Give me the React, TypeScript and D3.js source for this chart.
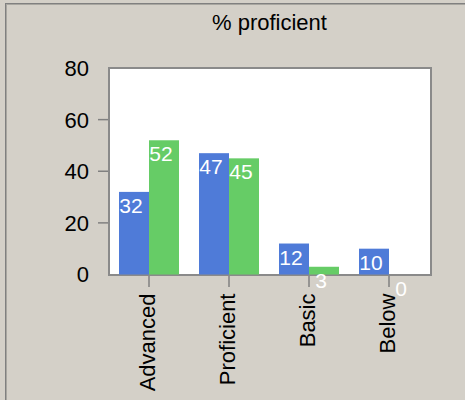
import React from "react";
import * as d3 from "d3";

const categories = ["Advanced", "Proficient", "Basic", "Below"];
const seriesNames = ["s1", "s2"];
const series1 = [32, 47, 12, 10];
const series2 = [52, 45, 3, 0];
const yTicks = [0, 20, 40, 60, 80];
const title = "% proficient";

const W = 465;
const H = 400;
const FONT = "'Liberation Sans', Arial, sans-serif";
const BG = "#d4d0c8";
const BLUE = "#4f7bd8";
const GREEN = "#66cc66";

export default function App() {
  const plot = { left: 109, right: 429, top: 68, bottom: 274.5 };
  const x = d3.scaleBand<string>().domain(categories).range([plot.left, plot.right]).paddingInner(0.25).paddingOuter(0.125);
  const xs = d3.scaleBand<string>().domain(seriesNames).range([0, x.bandwidth()]);
  const y = d3.scaleLinear().domain([0, 80]).range([plot.bottom, plot.top]);
  const colors = [BLUE, GREEN];
  const data = [series1, series2];

  return (
    <svg width={W} height={H} style={{ position: "absolute", left: 0, top: 0, display: "block" }} fontFamily={FONT}>
      <rect x={0} y={0} width={W} height={H} fill={BG} />
      {/* outer frame */}
      <line x1={5.5} y1={4} x2={5.5} y2={H} stroke="#808080" strokeWidth={1} />
      <line x1={6.5} y1={5} x2={6.5} y2={H} stroke="#a8a6a0" strokeWidth={1} />
      <line x1={5} y1={3.5} x2={W} y2={3.5} stroke="#808080" strokeWidth={1} />
      <line x1={6} y1={4.5} x2={W} y2={4.5} stroke="#a8a6a0" strokeWidth={1} />

      <text x={269.5} y={30} textAnchor="middle" fontSize={22} fill="#000">{title}</text>

      {/* plot area */}
      <rect x={109} y={68} width={322} height={207} fill="#ffffff" stroke="#8a8a8a" strokeWidth={2} />

      {/* y ticks */}
      {yTicks.map((t) => (
        <g key={"y" + t}>
          {t !== 0 && t !== 80 && (
            <line x1={98} x2={108} y1={y(t)} y2={y(t)} stroke="#808080" strokeWidth={1.5} />
          )}
          <text x={89} y={y(t)} dy="0.36em" textAnchor="end" fontSize={22} fill="#000">{t}</text>
        </g>
      ))}

      {/* bars */}
      {categories.map((c, i) => (
        <g key={c}>
          {data.map((s, j) => {
            const bx = (x(c) as number) + (xs(seriesNames[j]) as number);
            const bw = xs.bandwidth();
            const top = y(s[i]);
            return (
              <g key={j}>
                {s[i] > 0 && (
                  <rect x={bx} y={top} width={bw} height={y(0) - top} fill={colors[j]} />
                )}
              </g>
            );
          })}
        </g>
      ))}

      {/* x ticks and labels */}
      {categories.map((c) => {
        const cx = (x(c) as number) + x.bandwidth() / 2;
        return (
          <g key={"x" + c}>
            <line x1={cx} x2={cx} y1={276} y2={287} stroke="#808080" strokeWidth={1.5} />
            <text transform={`translate(${cx + 5.5},293.5) rotate(-90)`} textAnchor="end" fontSize={22} fill="#000">{c}</text>
          </g>
        );
      })}

      {/* value labels */}
      {categories.map((c, i) =>
        data.map((s, j) => {
          const bx = (x(c) as number) + (xs(seriesNames[j]) as number);
          const bw = xs.bandwidth();
          return (
            <text key={"v" + c + j} x={bx + bw / 2 - 3} y={y(s[i]) + 21} textAnchor="middle" fontSize={21} fill="#ffffff">{s[i]}</text>
          );
        })
      )}
    </svg>
  );
}
